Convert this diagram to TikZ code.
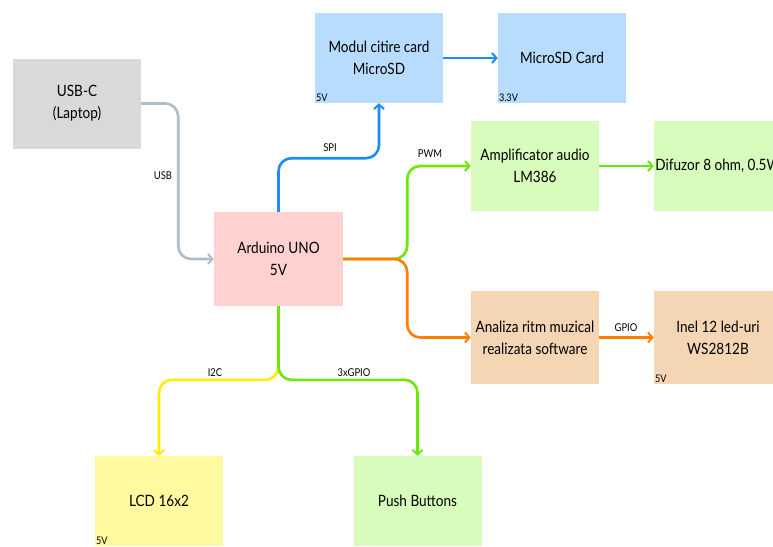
\documentclass[tikz,border=0pt]{standalone}
\usepackage{fontspec}
\setmainfont{Lato}[FakeStretch=0.87]
\usetikzlibrary{arrows.meta,calc}
\definecolor{fgray}{HTML}{D9D9D9}
\definecolor{fblue}{HTML}{B8DCFE}
\definecolor{fpink}{HTML}{FFD1D1}
\definecolor{fgreen}{HTML}{D8FCBC}
\definecolor{ftan}{HTML}{F4D5B4}
\definecolor{fyellow}{HTML}{FFFAA0}
\definecolor{lgray}{HTML}{B0BCC6}
\definecolor{lblue}{HTML}{1A8CFF}
\definecolor{lgreen}{HTML}{6EE60A}
\definecolor{lorange}{HTML}{FF8000}
\definecolor{lyellow}{HTML}{FFEE00}
\tikzset{
  blk/.style={minimum width=128pt, minimum height=90pt, inner sep=0pt, align=center, font=\fontsize{15.6}{22}\selectfont},
  volt/.style={anchor=south west, inner sep=1pt, font=\fontsize{10.5}{11}\selectfont},
  lbl/.style={inner sep=0pt, font=\fontsize{10.8}{11}\selectfont},
  conn/.style={line width=2.6pt, rounded corners=13pt, -{Straight Barb[length=4.5pt,width=10pt,line width=2pt]}},
}
\begin{document}
\begin{tikzpicture}[x=1pt,y=-1pt]
\useasboundingbox (0,0) rectangle (773,546);
\clip (0,0) rectangle (773,546);
\fill[white] (0,0) rectangle (773,546);
% blocks
\node[blk, fill=fgray] (usb) at (77,103.5) {USB-C\\(Laptop)};
\node[blk, fill=fblue] (mod) at (379,58) {Modul citire card\\MicroSD};
\node[blk, fill=fblue] (sd) at (562,58) {MicroSD Card};
\node[blk, fill=fpink, minimum width=129pt, minimum height=94pt] (ard) at (278.5,259) {Arduino UNO\\5V};
\node[blk, fill=fgreen] (amp) at (535,166) {Amplificator audio\\LM386};
\node[blk, fill=fgreen] (dif) at (718,166) {Difuzor 8 ohm, 0.5W};
\node[blk, fill=ftan, minimum height=93pt] (ana) at (535,337.5) {Analiza ritm muzical\\realizata software};
\node[blk, fill=ftan, minimum height=93pt] (inel) at (718,337.5) {Inel 12 led-uri\\WS2812B};
\node[blk, fill=fyellow] (lcd) at (159,501) {LCD 16x2};
\node[blk, fill=fgreen] (push) at (417.5,501) {Push Buttons};
% voltage tags
\node[volt] (v1) at (mod.south west) {5V};
\node[volt] (v2) at (sd.south west) {3.3V};
\node[volt] (v3) at (inel.south west) {5V};
\node[volt] (v4) at (lcd.south west) {5V};
% connectors
\draw[conn, lgray] (usb.east) -- ++(37,0) |- (ard.west);
\draw[conn, lblue] (ard.north) |- ($(mod.south)+(0,55)$) -- (mod.south);
\draw[conn, lblue] (mod.east) -- (sd.west);
\draw[conn, lgreen] (ard.east) -- ++(64,0) |- (amp.west);
\draw[conn, lorange] (ard.east) -- ++(64,0) |- (ana.west);
\draw[conn, lgreen] (amp.east) -- (dif.west);
\draw[conn, lorange] (ana.east) -- (inel.west);
\draw[conn, lyellow] (ard.south) |- ($(lcd.north)+(0,-76)$) -- (lcd.north);
\draw[conn, lgreen] (ard.south) |- ($(push.north)+(0,-76)$) -- (push.north);
% labels
\node[lbl] (tusb) at (163,176) {USB};
\node[lbl] (tspi) at (330,148) {SPI};
\node[lbl] (tpwm) at (430,154) {PWM};
\node[lbl] (tgpio) at (626,328) {GPIO};
\node[lbl] (ti2c) at (215,373) {I2C};
\node[lbl] (t3g) at (354,373) {3xGPIO};
\end{tikzpicture}
\end{document}
